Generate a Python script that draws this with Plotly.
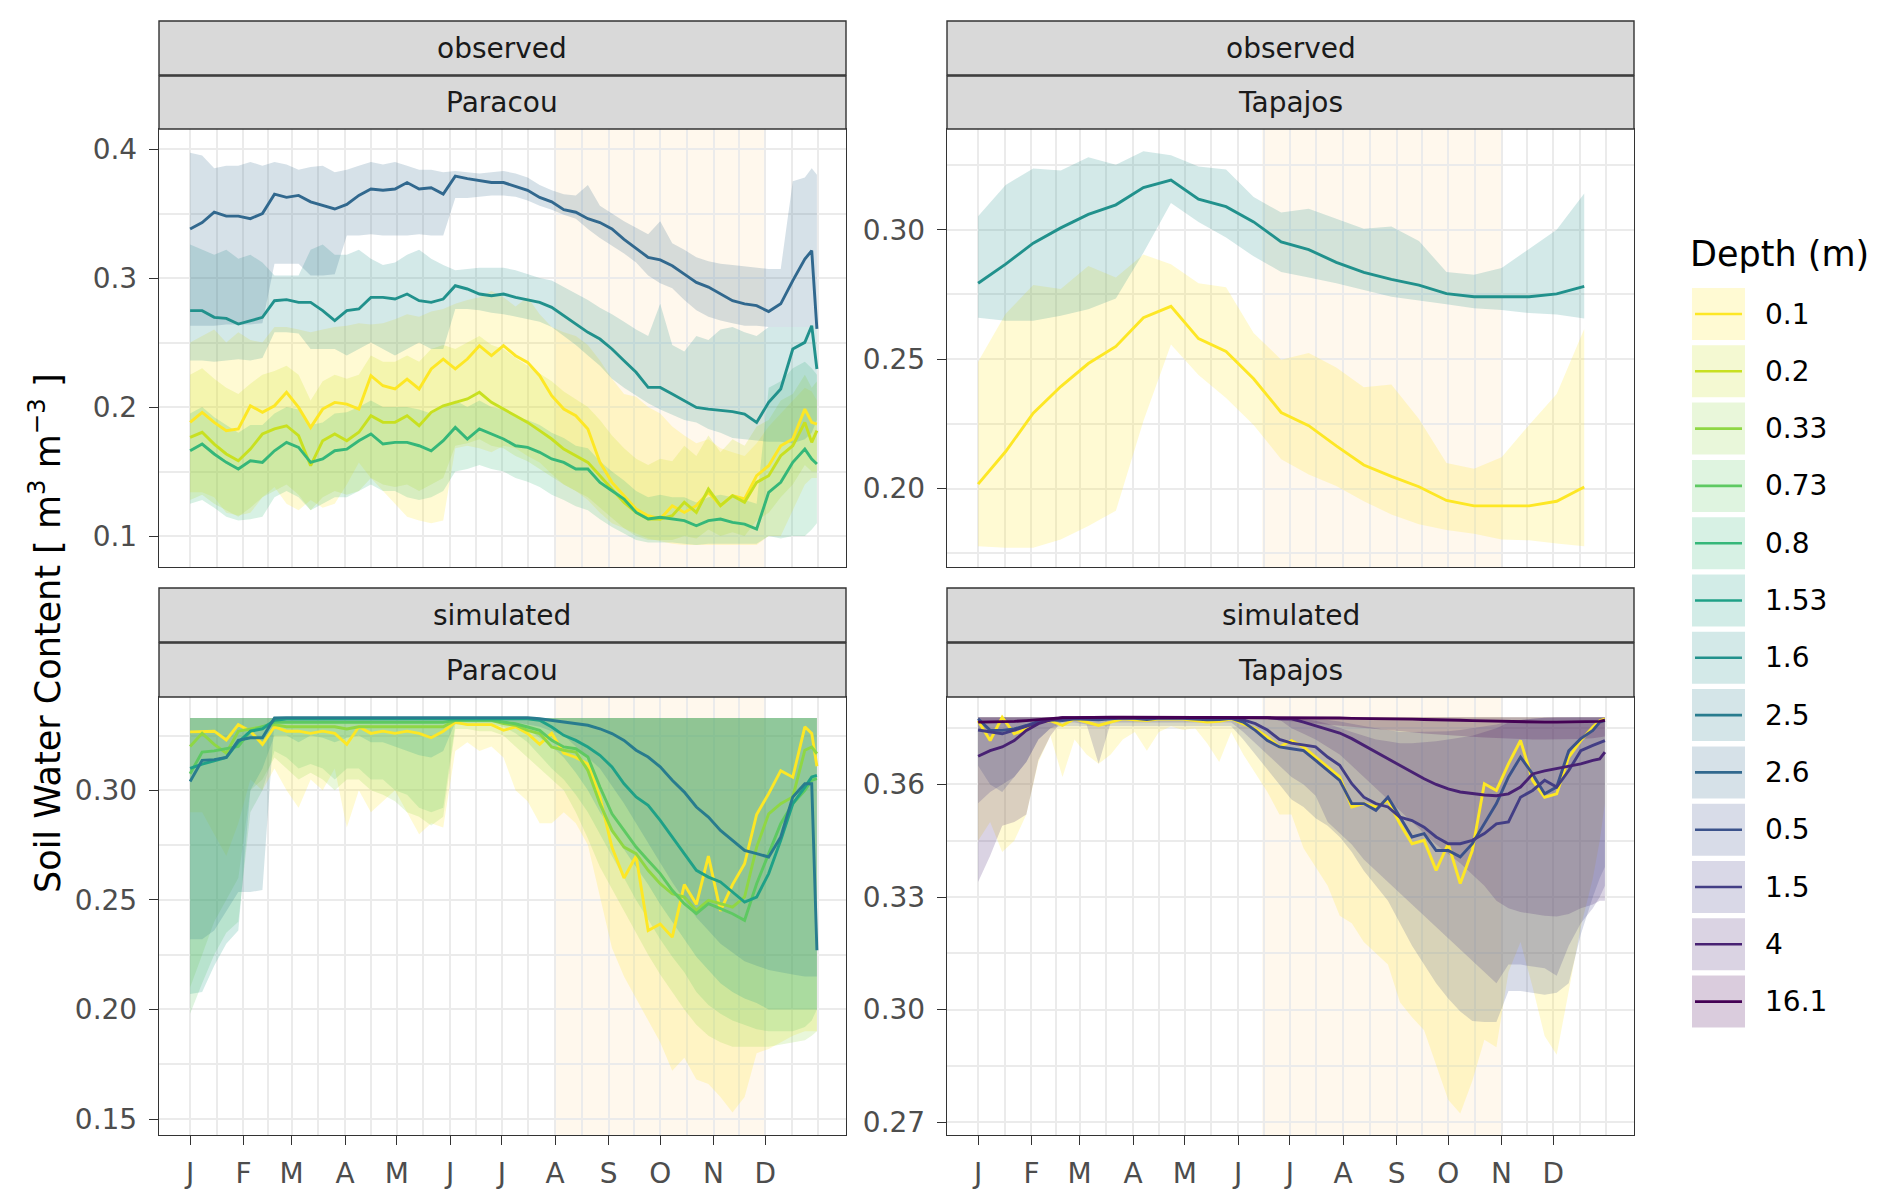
import plotly.graph_objects as go

# depth levels (legend order) and viridis colours, reversed
depth_labels = ["0.1", "0.2", "0.33", "0.73", "0.8", "1.53", "1.6", "2.5", "2.6", "0.5", "1.5", "4", "16.1"]
depth_colors = ["#FDE725", "#C8E020", "#8FD744", "#5EC962", "#35B779", "#1FA187", "#21918C",
                "#287C8E", "#31688E", "#3B528B", "#433E85", "#482173", "#440154"]
col = dict(zip(depth_labels, depth_colors))

month_labels = ["J", "F", "M", "A", "M", "J", "J", "A", "S", "O", "N", "D"]
month_start = [0, 31, 59, 90, 120, 151, 181, 212, 243, 273, 304, 334]
minor_x = [15.5, 45, 74.5, 105, 135.5, 166, 196.5, 227.5, 258, 288.5, 319, 349.5, 364.5]

# dry season (day of year)
dry_paracou = [212, 334]
dry_tapajos = [165, 304]

# sampling days
days = [0, 7, 14, 21, 28, 35, 42, 49, 56, 63, 70, 77, 84, 91, 98, 105, 112, 119, 126, 133,
        140, 147, 154, 161, 168, 175, 182, 189, 196, 203, 210, 217, 224, 231, 238, 245, 252,
        259, 266, 273, 280, 287, 294, 301, 308, 315, 322, 329, 336, 343, 350, 357, 361, 364]
days_tap_obs = [0, 16, 32, 48, 64, 80, 96, 112, 128, 144, 160, 176, 192, 208, 224, 240, 256,
                272, 288, 304, 320, 336, 352]

# ---------------- observed, Paracou ----------------
po_26 = [0.338, 0.343, 0.351, 0.348, 0.348, 0.346, 0.350, 0.365, 0.3625, 0.364,
         0.359, 0.356, 0.3535, 0.357, 0.364, 0.369, 0.368, 0.369, 0.374, 0.369,
         0.370, 0.365, 0.379, 0.377, 0.3755, 0.374, 0.374, 0.371, 0.368, 0.3625,
         0.359, 0.353, 0.351, 0.346, 0.343, 0.338, 0.330, 0.323, 0.316, 0.314,
         0.3095, 0.303, 0.2966, 0.293, 0.2876, 0.2824, 0.280, 0.2786, 0.274, 0.280,
         0.298, 0.3147, 0.3212, 0.2605]
po_26_hi = [0.397, 0.395, 0.385, 0.387, 0.387, 0.390, 0.387, 0.390, 0.388, 0.384,
            0.386, 0.387, 0.382, 0.384, 0.387, 0.390, 0.388, 0.390, 0.387, 0.384,
            0.384, 0.382, 0.383, 0.382, 0.381, 0.382, 0.383, 0.381, 0.378, 0.372,
            0.368, 0.365, 0.364, 0.372, 0.356, 0.350, 0.344, 0.339, 0.334, 0.344,
            0.327, 0.322, 0.316, 0.313, 0.311, 0.310, 0.309, 0.308, 0.307, 0.307,
            0.375, 0.378, 0.385, 0.380]
po_26_lo = [0.263, 0.263, 0.263, 0.264, 0.264, 0.264, 0.265, 0.311, 0.311, 0.311,
            0.302, 0.302, 0.303, 0.333, 0.333, 0.334, 0.333, 0.333, 0.333, 0.334,
            0.333, 0.333, 0.362, 0.362, 0.363, 0.364, 0.364, 0.363, 0.360, 0.356,
            0.353, 0.349, 0.346, 0.338, 0.331, 0.325, 0.319, 0.312, 0.302, 0.296,
            0.292, 0.283, 0.275, 0.270, 0.267, 0.265, 0.263, 0.263, 0.262, 0.262,
            0.262, 0.262, 0.262, 0.262]

po_16 = [0.2747, 0.2747, 0.2695, 0.2687, 0.2643, 0.267, 0.2695, 0.2824, 0.2832, 0.2811,
         0.2811, 0.2747, 0.267, 0.2747, 0.276, 0.285, 0.285, 0.2837, 0.2876, 0.2824,
         0.2811, 0.2837, 0.294, 0.2915, 0.2876, 0.2863, 0.2876, 0.285, 0.2832, 0.2811,
         0.2773, 0.2708, 0.2643, 0.2579, 0.2527, 0.245, 0.2359, 0.2269, 0.2152, 0.2152,
         0.2101, 0.2049, 0.1997, 0.1984, 0.1972, 0.1964, 0.1946, 0.188, 0.2036, 0.214,
         0.245, 0.2501, 0.263, 0.2295]
po_16_hi = [0.326, 0.322, 0.318, 0.322, 0.315, 0.318, 0.312, 0.302, 0.302, 0.302,
            0.322, 0.326, 0.318, 0.318, 0.322, 0.315, 0.310, 0.312, 0.318, 0.322,
            0.315, 0.310, 0.306, 0.307, 0.308, 0.308, 0.308, 0.306, 0.303, 0.300,
            0.298, 0.293, 0.288, 0.283, 0.277, 0.272, 0.266, 0.260, 0.255, 0.280,
            0.248, 0.243, 0.255, 0.252, 0.260, 0.262, 0.258, 0.255, 0.262, 0.262,
            0.262, 0.262, 0.262, 0.262]
po_16_lo = [0.236, 0.236, 0.235, 0.236, 0.237, 0.236, 0.238, 0.258, 0.258, 0.257,
            0.245, 0.245, 0.245, 0.240, 0.245, 0.250, 0.245, 0.240, 0.245, 0.250,
            0.245, 0.245, 0.276, 0.276, 0.275, 0.273, 0.272, 0.270, 0.268, 0.266,
            0.262, 0.255, 0.248, 0.240, 0.232, 0.222, 0.215, 0.209, 0.203, 0.198,
            0.194, 0.190, 0.188, 0.183, 0.180, 0.176, 0.175, 0.174, 0.173, 0.173,
            0.172, 0.175, 0.180, 0.190]

po_01 = [0.1881, 0.1959, 0.1881, 0.1817, 0.183, 0.201, 0.1959, 0.201, 0.2114, 0.1997,
         0.1842, 0.1984, 0.2036, 0.2023, 0.1984, 0.2243, 0.2165, 0.214, 0.2217, 0.214,
         0.2295, 0.2372, 0.2295, 0.2372, 0.2475, 0.2398, 0.2475, 0.2398, 0.2346, 0.2243,
         0.2088, 0.1984, 0.1933, 0.183, 0.1571, 0.1416, 0.1313, 0.1209, 0.1158, 0.1132,
         0.1235, 0.1183, 0.1235, 0.1339, 0.1235, 0.1313, 0.1287, 0.1468, 0.1545, 0.170,
         0.1752, 0.1984, 0.1881, 0.1868]
po_01_hi = [0.250, 0.255, 0.260, 0.250, 0.258, 0.252, 0.250, 0.262, 0.262, 0.260,
            0.258, 0.260, 0.262, 0.263, 0.265, 0.264, 0.265, 0.268, 0.272, 0.270,
            0.274, 0.276, 0.280, 0.283, 0.285, 0.290, 0.285, 0.278, 0.285, 0.272,
            0.262, 0.258, 0.255, 0.248, 0.236, 0.222, 0.210, 0.208, 0.200, 0.195,
            0.185, 0.178, 0.172, 0.175, 0.168, 0.165, 0.162, 0.172, 0.185, 0.195,
            0.205, 0.215, 0.212, 0.205]
po_01_lo = [0.134, 0.134, 0.130, 0.118, 0.116, 0.118, 0.130, 0.138, 0.125, 0.120,
            0.128, 0.122, 0.125, 0.140, 0.157, 0.145, 0.135, 0.125, 0.115, 0.112,
            0.110, 0.112, 0.168, 0.170, 0.168, 0.165, 0.170, 0.168, 0.162, 0.157,
            0.148, 0.140, 0.135, 0.128, 0.118, 0.110, 0.106, 0.102, 0.098, 0.096,
            0.094, 0.093, 0.093, 0.093, 0.093, 0.093, 0.093, 0.093, 0.100, 0.100,
            0.120, 0.140, 0.145, 0.145]

po_02 = [0.1765, 0.1804, 0.1713, 0.1636, 0.1584, 0.1674, 0.1791, 0.183, 0.1855, 0.1778,
         0.1545, 0.1739, 0.1791, 0.1739, 0.1804, 0.1933, 0.1881, 0.1881, 0.1933, 0.1855,
         0.1959, 0.201, 0.2036, 0.2062, 0.2114, 0.2036, 0.1984, 0.1933, 0.1881, 0.1817,
         0.1752, 0.1674, 0.1623, 0.1571, 0.1468, 0.1364, 0.1261, 0.1183, 0.1132, 0.1132,
         0.1158, 0.1261, 0.1183, 0.1364, 0.1235, 0.1313, 0.1261, 0.1416, 0.1468, 0.1623,
         0.170, 0.1881, 0.1726, 0.1817]
po_02_hi = [0.225, 0.230, 0.222, 0.215, 0.210, 0.218, 0.225, 0.228, 0.232, 0.225,
            0.205, 0.220, 0.225, 0.222, 0.225, 0.240, 0.235, 0.235, 0.240, 0.235,
            0.245, 0.248, 0.245, 0.250, 0.255, 0.248, 0.245, 0.238, 0.232, 0.226,
            0.220, 0.212, 0.206, 0.200, 0.190, 0.178, 0.168, 0.160, 0.155, 0.160,
            0.158, 0.170, 0.162, 0.178, 0.165, 0.175, 0.170, 0.185, 0.190, 0.205,
            0.210, 0.225, 0.215, 0.220]
po_02_lo = [0.128, 0.132, 0.125, 0.120, 0.115, 0.122, 0.130, 0.135, 0.140, 0.132,
            0.120, 0.130, 0.135, 0.132, 0.135, 0.145, 0.140, 0.138, 0.140, 0.135,
            0.140, 0.145, 0.170, 0.172, 0.175, 0.170, 0.168, 0.162, 0.158, 0.152,
            0.146, 0.140, 0.135, 0.130, 0.122, 0.114, 0.106, 0.100, 0.097, 0.097,
            0.097, 0.100, 0.098, 0.105, 0.100, 0.103, 0.100, 0.112, 0.118, 0.130,
            0.140, 0.155, 0.150, 0.150]

po_08 = [0.1661, 0.1713, 0.1636, 0.1571, 0.152, 0.1584, 0.1571, 0.1661, 0.1726, 0.1687,
         0.1571, 0.1597, 0.1661, 0.1674, 0.1739, 0.1791, 0.1713, 0.1726, 0.1726, 0.170,
         0.1661, 0.1739, 0.1842, 0.1752, 0.183, 0.1791, 0.1752, 0.170, 0.1687, 0.1649,
         0.1597, 0.1571, 0.152, 0.152, 0.1416, 0.1351, 0.1287, 0.1183, 0.1132, 0.1145,
         0.1132, 0.1119, 0.108, 0.1119, 0.1132, 0.1106, 0.1093, 0.1054, 0.1339, 0.1416,
         0.1571, 0.1674, 0.1597, 0.1558]
po_08_hi = [0.195, 0.200, 0.192, 0.186, 0.180, 0.186, 0.186, 0.195, 0.200, 0.198,
            0.186, 0.188, 0.195, 0.196, 0.200, 0.205, 0.200, 0.200, 0.200, 0.198,
            0.195, 0.200, 0.205, 0.200, 0.205, 0.200, 0.198, 0.192, 0.190, 0.186,
            0.180, 0.176, 0.170, 0.168, 0.158, 0.150, 0.143, 0.135, 0.130, 0.132,
            0.130, 0.130, 0.126, 0.130, 0.132, 0.130, 0.128, 0.125, 0.215, 0.220,
            0.230, 0.235, 0.230, 0.225]
po_08_lo = [0.125, 0.128, 0.122, 0.115, 0.112, 0.113, 0.115, 0.130, 0.135, 0.130,
            0.120, 0.125, 0.130, 0.130, 0.135, 0.140, 0.135, 0.135, 0.130, 0.128,
            0.130, 0.135, 0.150, 0.152, 0.155, 0.152, 0.150, 0.145, 0.142, 0.138,
            0.132, 0.128, 0.123, 0.120, 0.113, 0.107, 0.102, 0.097, 0.095, 0.095,
            0.095, 0.094, 0.093, 0.094, 0.094, 0.094, 0.094, 0.094, 0.100, 0.098,
            0.100, 0.100, 0.105, 0.110]

# ---------------- observed, Tapajos ----------------
to_16 = [0.2793, 0.2867, 0.2948, 0.3007, 0.3059, 0.3096, 0.3163, 0.3192, 0.3118, 0.3089,
         0.303, 0.2953, 0.2923, 0.2874, 0.2835, 0.2808, 0.2786, 0.2753, 0.2741, 0.2741,
         0.2741, 0.2752, 0.2781]
to_16_hi = [0.3052, 0.3173, 0.3236, 0.3229, 0.328, 0.3251, 0.3303, 0.3288, 0.3244, 0.3233,
            0.3126, 0.3066, 0.3081, 0.3044, 0.3004, 0.3012, 0.2956, 0.2837, 0.2826, 0.2852,
            0.2926, 0.300, 0.314]
to_16_lo = [0.266, 0.2648, 0.2648, 0.2668, 0.2693, 0.2734, 0.2911, 0.3103, 0.303, 0.297,
            0.2897, 0.2837, 0.2815, 0.2793, 0.2767, 0.2741, 0.2727, 0.2712, 0.2697, 0.269,
            0.2678, 0.2672, 0.2657]
to_01 = [0.2017, 0.2143, 0.2291, 0.2394, 0.2483, 0.2549, 0.266, 0.2704, 0.2579, 0.253,
         0.2424, 0.2294, 0.2243, 0.2165, 0.2091, 0.2047, 0.2007, 0.1954, 0.1933, 0.1933,
         0.1933, 0.1951, 0.2006]
to_01_hi = [0.249, 0.2675, 0.2786, 0.2771, 0.286, 0.2815, 0.2904, 0.2867, 0.2793, 0.2778,
            0.2601, 0.2498, 0.2524, 0.2468, 0.2391, 0.2402, 0.2269, 0.2099, 0.2077, 0.2121,
            0.2246, 0.2365, 0.2616]
to_01_lo = [0.1777, 0.1771, 0.1771, 0.1803, 0.1855, 0.1914, 0.2261, 0.2557, 0.2439, 0.235,
            0.2246, 0.2113, 0.2054, 0.201, 0.1951, 0.190, 0.1862, 0.184, 0.1825, 0.1803,
            0.180, 0.1788, 0.1777]

# ---------------- simulated, Paracou ----------------
ps_hi = [0.333, 0.333, 0.333, 0.333, 0.333, 0.333, 0.333, 0.3332, 0.3332, 0.3332,
         0.3332, 0.3332, 0.3332, 0.3332, 0.3332, 0.3332, 0.3332, 0.3332, 0.3332, 0.3332,
         0.3332, 0.3332, 0.3333, 0.3333, 0.3333, 0.3333, 0.3333, 0.3333, 0.3333, 0.333,
         0.333, 0.333, 0.333, 0.333, 0.333, 0.333, 0.333, 0.333, 0.333, 0.333,
         0.333, 0.333, 0.333, 0.333, 0.333, 0.333, 0.333, 0.333, 0.333, 0.333,
         0.333, 0.333, 0.333, 0.333]

ps_01 = [0.3267, 0.327, 0.327, 0.323, 0.330, 0.327, 0.321, 0.329, 0.327, 0.327,
         0.326, 0.327, 0.326, 0.321, 0.329, 0.326, 0.327, 0.326, 0.327, 0.326,
         0.324, 0.327, 0.331, 0.330, 0.330, 0.330, 0.3274, 0.329, 0.326, 0.321,
         0.326, 0.317, 0.315, 0.312, 0.297, 0.274, 0.260, 0.270, 0.236, 0.239,
         0.233, 0.257, 0.248, 0.270, 0.245, 0.257, 0.2665, 0.289, 0.2985, 0.309,
         0.306, 0.329, 0.326, 0.311]
ps_01_lo = [0.290, 0.290, 0.280, 0.270, 0.285, 0.305, 0.300, 0.310, 0.300, 0.292,
            0.305, 0.300, 0.310, 0.283, 0.300, 0.290, 0.295, 0.300, 0.290, 0.280,
            0.285, 0.283, 0.318, 0.322, 0.318, 0.320, 0.315, 0.300, 0.295, 0.285,
            0.285, 0.290, 0.285, 0.275, 0.251, 0.228, 0.215, 0.205, 0.195, 0.185,
            0.172, 0.178, 0.168, 0.166, 0.160, 0.153, 0.160, 0.180, 0.182, 0.185,
            0.188, 0.190, 0.190, 0.190]

ps_033 = [0.320, 0.326, 0.321, 0.317, 0.327, 0.328, 0.329, 0.330, 0.329, 0.329,
          0.329, 0.329, 0.329, 0.328, 0.329, 0.329, 0.329, 0.329, 0.329, 0.329,
          0.329, 0.329, 0.332, 0.332, 0.332, 0.332, 0.3305, 0.3297, 0.3274, 0.3259,
          0.3198, 0.3183, 0.3175, 0.3091, 0.2939, 0.2817, 0.2741, 0.2711, 0.2635, 0.2574,
          0.2528, 0.2513, 0.2452, 0.2498, 0.2483, 0.2467, 0.2513, 0.2741, 0.2893, 0.2939,
          0.297, 0.3183, 0.3198, 0.3167]
ps_033_lo = [0.210, 0.225, 0.240, 0.250, 0.260, 0.300, 0.305, 0.315, 0.310, 0.305,
             0.308, 0.305, 0.300, 0.305, 0.305, 0.300, 0.298, 0.295, 0.290, 0.288,
             0.284, 0.288, 0.328, 0.328, 0.327, 0.327, 0.325, 0.320, 0.315, 0.310,
             0.305, 0.300, 0.290, 0.278, 0.265, 0.255, 0.245, 0.235, 0.225, 0.216,
             0.208, 0.200, 0.193, 0.188, 0.185, 0.183, 0.183, 0.183, 0.183, 0.184,
             0.185, 0.186, 0.188, 0.190]

ps_073 = [0.3076, 0.3175, 0.318, 0.319, 0.320, 0.327, 0.329, 0.331, 0.331, 0.331,
          0.331, 0.331, 0.331, 0.331, 0.331, 0.331, 0.331, 0.331, 0.331, 0.331,
          0.331, 0.331, 0.332, 0.332, 0.332, 0.332, 0.3312, 0.3304, 0.3289, 0.3274,
          0.3228, 0.3198, 0.319, 0.3152, 0.3015, 0.2893, 0.2817, 0.2741, 0.268, 0.262,
          0.2544, 0.2483, 0.2437, 0.2483, 0.246, 0.2437, 0.2407, 0.2574, 0.2711, 0.2848,
          0.2939, 0.300, 0.3046, 0.3053]
ps_073_lo = [0.198, 0.212, 0.225, 0.235, 0.240, 0.290, 0.300, 0.318, 0.315, 0.310,
             0.312, 0.310, 0.305, 0.310, 0.310, 0.305, 0.305, 0.300, 0.298, 0.292,
             0.290, 0.292, 0.330, 0.330, 0.330, 0.330, 0.329, 0.326, 0.322, 0.316,
             0.310, 0.305, 0.298, 0.290, 0.280, 0.270, 0.260, 0.250, 0.241, 0.232,
             0.224, 0.217, 0.208, 0.202, 0.198, 0.195, 0.193, 0.191, 0.190, 0.190,
             0.190, 0.192, 0.195, 0.200]

ps_153 = [0.310, 0.312, 0.3135, 0.315, 0.322, 0.327, 0.328, 0.332, 0.3325, 0.3325,
          0.3325, 0.3325, 0.3325, 0.3325, 0.3325, 0.3325, 0.3325, 0.3325, 0.3325, 0.3325,
          0.3325, 0.3325, 0.3327, 0.3327, 0.3327, 0.3327, 0.3327, 0.3327, 0.3327, 0.332,
          0.3289, 0.3251, 0.3228, 0.3198, 0.316, 0.3107, 0.303, 0.297, 0.2932, 0.2863,
          0.2787, 0.2711, 0.2635, 0.2604, 0.2582, 0.2536, 0.249, 0.2513, 0.262, 0.2772,
          0.2939, 0.3015, 0.3061, 0.3068]
ps_153_lo = [0.207, 0.208, 0.220, 0.230, 0.236, 0.300, 0.310, 0.325, 0.325, 0.322,
             0.325, 0.324, 0.322, 0.324, 0.325, 0.322, 0.322, 0.320, 0.318, 0.316,
             0.315, 0.318, 0.331, 0.331, 0.331, 0.331, 0.331, 0.330, 0.328, 0.324,
             0.320, 0.315, 0.308, 0.300, 0.290, 0.282, 0.273, 0.265, 0.257, 0.248,
             0.240, 0.232, 0.224, 0.218, 0.212, 0.208, 0.205, 0.203, 0.200, 0.200,
             0.200, 0.200, 0.200, 0.200]

ps_25 = [0.304, 0.3137, 0.314, 0.315, 0.3228, 0.324, 0.324, 0.333, 0.3332, 0.3332,
         0.3332, 0.3332, 0.3332, 0.3332, 0.3332, 0.3332, 0.3332, 0.3332, 0.3332, 0.3332,
         0.3332, 0.3332, 0.3333, 0.3333, 0.3333, 0.3333, 0.3332, 0.3332, 0.3332, 0.3327,
         0.332, 0.3312, 0.3304, 0.3297, 0.3281, 0.3259, 0.3228, 0.3183, 0.3152, 0.3107,
         0.3046, 0.2992, 0.2924, 0.2878, 0.2817, 0.2772, 0.2726, 0.2711, 0.2696, 0.2787,
         0.297, 0.303, 0.303, 0.227]
ps_25_lo = [0.232, 0.232, 0.236, 0.245, 0.2536, 0.2536, 0.2545, 0.332, 0.332, 0.332,
            0.332, 0.332, 0.332, 0.332, 0.332, 0.332, 0.332, 0.332, 0.332, 0.332,
            0.332, 0.332, 0.332, 0.332, 0.332, 0.332, 0.332, 0.331, 0.330, 0.329,
            0.327, 0.325, 0.320, 0.315, 0.310, 0.302, 0.294, 0.285, 0.276, 0.267,
            0.258, 0.250, 0.242, 0.236, 0.230, 0.226, 0.222, 0.220, 0.218, 0.217,
            0.216, 0.215, 0.215, 0.215]

# ---------------- simulated, Tapajos ----------------
ts_hi = [0.3779, 0.3779, 0.3779, 0.3779, 0.3779, 0.3779, 0.3779, 0.3779, 0.3779, 0.3779,
         0.3779, 0.3779, 0.3779, 0.3779, 0.3779, 0.3779, 0.3779, 0.3779, 0.3779, 0.3779,
         0.3779, 0.3779, 0.3779, 0.3779, 0.3779, 0.3779, 0.3779, 0.3779, 0.3779, 0.3779,
         0.3779, 0.3779, 0.3779, 0.3779, 0.3779, 0.3779, 0.3779, 0.3779, 0.3779, 0.3779,
         0.3779, 0.3779, 0.3779, 0.3779, 0.3779, 0.3779, 0.3779, 0.3779, 0.3779, 0.3779,
         0.3779, 0.3779, 0.3779, 0.3779]

ts_01 = [0.377, 0.3717, 0.3779, 0.3735, 0.3748, 0.3766, 0.377, 0.3757, 0.3775, 0.3766,
         0.3757, 0.3766, 0.3775, 0.3772, 0.377, 0.3775, 0.3774, 0.3774, 0.377, 0.3766,
         0.3768, 0.3775, 0.3761, 0.3748, 0.3726, 0.370, 0.3717, 0.370, 0.3673, 0.3646,
         0.362, 0.354, 0.3549, 0.354, 0.3557, 0.3495, 0.3442, 0.3451, 0.3371, 0.3442,
         0.3336, 0.3424, 0.3602, 0.3584, 0.3655, 0.3717, 0.3611, 0.3566, 0.3575, 0.3673,
         0.3717, 0.3753, 0.377, 0.3775]
ts_01_lo = [0.345, 0.350, 0.342, 0.345, 0.352, 0.366, 0.373, 0.362, 0.372, 0.368,
            0.3655, 0.368, 0.372, 0.374, 0.369, 0.374, 0.3755, 0.3745, 0.375, 0.371,
            0.366, 0.374, 0.368, 0.363, 0.358, 0.352, 0.352, 0.343, 0.338, 0.333,
            0.325, 0.323, 0.318, 0.315, 0.312, 0.302, 0.298, 0.2945, 0.285, 0.276,
            0.2723, 0.281, 0.292, 0.290, 0.310, 0.318, 0.306, 0.293, 0.288, 0.305,
            0.322, 0.335, 0.345, 0.355]

ts_05 = [0.3775, 0.3744, 0.3744, 0.3748, 0.3757, 0.3768, 0.3772, 0.377, 0.3775, 0.3773,
         0.3772, 0.3775, 0.3777, 0.3776, 0.3773, 0.3777, 0.3777, 0.3776, 0.3774, 0.3772,
         0.3773, 0.3776, 0.3766, 0.3744, 0.3717, 0.370, 0.3695, 0.369, 0.3664, 0.3637,
         0.3611, 0.3549, 0.3549, 0.3531, 0.3566, 0.3513, 0.346, 0.3469, 0.3424, 0.3424,
         0.3407, 0.3442, 0.3495, 0.3549, 0.362, 0.3673, 0.3628, 0.3575, 0.3593, 0.369,
         0.3722, 0.3744, 0.3766, 0.377]
ts_05_lo = [0.365, 0.360, 0.358, 0.362, 0.366, 0.372, 0.375, 0.3755, 0.3755, 0.3755,
            0.3755, 0.3755, 0.3755, 0.3755, 0.3755, 0.3755, 0.3755, 0.3755, 0.3755, 0.3755,
            0.3755, 0.3755, 0.372, 0.368, 0.364, 0.360, 0.356, 0.354, 0.351, 0.349,
            0.346, 0.342, 0.337, 0.333, 0.329, 0.323, 0.317, 0.312, 0.307, 0.303,
            0.2995, 0.297, 0.2967, 0.2967, 0.305, 0.305, 0.3045, 0.304, 0.3045, 0.307,
            0.320, 0.330, 0.335, 0.338]

ts_15 = [0.3745, 0.374, 0.3735, 0.3745, 0.3755, 0.3765, 0.3772, 0.3775, 0.3776, 0.3777,
         0.3777, 0.3776, 0.3777, 0.3777, 0.3777, 0.3777, 0.3777, 0.3777, 0.3776, 0.3776,
         0.3776, 0.3777, 0.3772, 0.3762, 0.3745, 0.372, 0.371, 0.3705, 0.370, 0.3673,
         0.3651, 0.3602, 0.3566, 0.3549, 0.354, 0.3513, 0.3504, 0.3486, 0.346, 0.3442,
         0.3442, 0.3451, 0.3469, 0.3495, 0.350, 0.3566, 0.3584, 0.3611, 0.3593, 0.3637,
         0.369, 0.3704, 0.3711, 0.3717]
ts_15_hi = [0.3779, 0.3779, 0.3779, 0.3779, 0.3779, 0.3779, 0.3779, 0.3779, 0.3779, 0.3779,
            0.3779, 0.3779, 0.3779, 0.3779, 0.3779, 0.3779, 0.3779, 0.3779, 0.3779, 0.3779,
            0.3779, 0.3779, 0.3779, 0.3779, 0.3779, 0.3779, 0.3779, 0.3778, 0.3776, 0.3772,
            0.3768, 0.3762, 0.3755, 0.375, 0.3745, 0.374, 0.374, 0.374, 0.374, 0.3742,
            0.3745, 0.375, 0.3755, 0.376, 0.3768, 0.3772, 0.3775, 0.3778, 0.3779, 0.3779,
            0.3779, 0.3779, 0.3779, 0.3779]
ts_15_lo = [0.355, 0.358, 0.360, 0.362, 0.366, 0.372, 0.375, 0.3765, 0.3765, 0.376,
            0.3655, 0.3765, 0.3765, 0.3765, 0.3765, 0.3765, 0.3765, 0.3765, 0.3765, 0.3765,
            0.3765, 0.3765, 0.374, 0.371, 0.368, 0.365, 0.362, 0.360, 0.357, 0.350,
            0.347, 0.344, 0.340, 0.337, 0.334, 0.331, 0.328, 0.325, 0.322, 0.319,
            0.316, 0.313, 0.310, 0.307, 0.312, 0.312, 0.3115, 0.311, 0.309, 0.317,
            0.323, 0.327, 0.330, 0.333]

ts_4 = [0.3675, 0.369, 0.370, 0.3717, 0.3744, 0.3762, 0.3772, 0.3778, 0.3778, 0.3778,
        0.3778, 0.3778, 0.3778, 0.3778, 0.3778, 0.3778, 0.3778, 0.3778, 0.3778, 0.3778,
        0.3778, 0.3778, 0.3778, 0.3778, 0.3778, 0.3775, 0.3775, 0.3766, 0.3757, 0.3748,
        0.3737, 0.3722, 0.3704, 0.3686, 0.3668, 0.3651, 0.3633, 0.3615, 0.360, 0.3588,
        0.358, 0.3575, 0.3572, 0.357, 0.3575, 0.3593, 0.3628, 0.3636, 0.3642, 0.3648,
        0.3655, 0.3664, 0.3668, 0.3686]
ts_4_hi = [0.3779, 0.3779, 0.3779, 0.3779, 0.3779, 0.3779, 0.3779, 0.3779, 0.3779, 0.3779,
           0.3779, 0.3779, 0.3779, 0.3779, 0.3779, 0.3779, 0.3779, 0.3779, 0.3779, 0.3779,
           0.3779, 0.3779, 0.3779, 0.3779, 0.3779, 0.3779, 0.3778, 0.3775, 0.377, 0.3762,
           0.375, 0.374, 0.373, 0.372, 0.3715, 0.371, 0.371, 0.3712, 0.3715, 0.372,
           0.3725, 0.373, 0.374, 0.375, 0.3765, 0.3772, 0.3775, 0.3778, 0.3779, 0.3779,
           0.3779, 0.3779, 0.3779, 0.3779]
ts_4_lo = [0.334, 0.341, 0.349, 0.350, 0.352, 0.3665, 0.373, 0.3772, 0.3775, 0.3776,
           0.3776, 0.3776, 0.3776, 0.3776, 0.3776, 0.3776, 0.3776, 0.3776, 0.3776, 0.3776,
           0.3776, 0.3776, 0.3776, 0.3775, 0.3774, 0.3773, 0.375, 0.3735, 0.372, 0.370,
           0.368, 0.365, 0.362, 0.359, 0.356, 0.353, 0.350, 0.347, 0.344, 0.3415,
           0.339, 0.336, 0.333, 0.329, 0.327, 0.326, 0.3255, 0.325, 0.3248, 0.3255,
           0.327, 0.328, 0.329, 0.329]

ts_161 = [0.3766, 0.3766, 0.3767, 0.3768, 0.377, 0.3773, 0.3776, 0.3778, 0.3778, 0.3779,
          0.3779, 0.3779, 0.3779, 0.3779, 0.3779, 0.3779, 0.3779, 0.3779, 0.3779, 0.3779,
          0.3779, 0.3779, 0.3779, 0.3779, 0.3779, 0.3779, 0.3778, 0.3778, 0.3778, 0.3777,
          0.3777, 0.3776, 0.3776, 0.3775, 0.3775, 0.3774, 0.3774, 0.3773, 0.3773, 0.3772,
          0.3771, 0.377, 0.3769, 0.3768, 0.3767, 0.3767, 0.3766, 0.3766, 0.3766, 0.3766,
          0.3766, 0.3767, 0.3768, 0.3771]
ts_161_lo = [0.3762, 0.3762, 0.3763, 0.3764, 0.3766, 0.3769, 0.3772, 0.3775, 0.3776, 0.3776,
             0.3776, 0.3776, 0.3776, 0.3776, 0.3776, 0.3776, 0.3776, 0.3776, 0.3776, 0.3776,
             0.3776, 0.3776, 0.3775, 0.3774, 0.3773, 0.3771, 0.3769, 0.3766, 0.3763, 0.376,
             0.3757, 0.3754, 0.3751, 0.3748, 0.3745, 0.3742, 0.3739, 0.3736, 0.3733, 0.3731,
             0.3729, 0.3727, 0.3725, 0.3723, 0.3722, 0.3721, 0.372, 0.372, 0.372, 0.372,
             0.3721, 0.3723, 0.3725, 0.3728]

# ---------------- figure ----------------
W, H = 1892, 1197
FONT = "DejaVu Sans"
GRID = "#EBEBEB"
BORDER = "#333333"


def px(x):
    return x / W


def py(y):
    return 1 - y / H


def rgba(hex_color, a):
    h = hex_color.lstrip("#")
    return "rgba(%d,%d,%d,%.2f)" % (int(h[0:2], 16), int(h[2:4], 16), int(h[4:6], 16), a)


panels = [
    dict(xa="x", ya="y", strip=("observed", "Paracou"), dry=dry_paracou, x=days,
         series=[("0.1", po_01, po_01_lo, po_01_hi), ("0.2", po_02, po_02_lo, po_02_hi),
                 ("0.8", po_08, po_08_lo, po_08_hi), ("1.6", po_16, po_16_lo, po_16_hi),
                 ("2.6", po_26, po_26_lo, po_26_hi)]),
    dict(xa="x2", ya="y2", strip=("observed", "Tapajos"), dry=dry_tapajos, x=days_tap_obs,
         series=[("0.1", to_01, to_01_lo, to_01_hi), ("1.6", to_16, to_16_lo, to_16_hi)]),
    dict(xa="x3", ya="y3", strip=("simulated", "Paracou"), dry=dry_paracou, x=days,
         series=[("0.1", ps_01, ps_01_lo, ps_hi), ("0.33", ps_033, ps_033_lo, ps_hi),
                 ("0.73", ps_073, ps_073_lo, ps_hi), ("1.53", ps_153, ps_153_lo, ps_hi),
                 ("2.5", ps_25, ps_25_lo, ps_hi)]),
    dict(xa="x4", ya="y4", strip=("simulated", "Tapajos"), dry=dry_tapajos, x=days,
         series=[("0.1", ts_01, ts_01_lo, ts_hi), ("0.5", ts_05, ts_05_lo, ts_hi),
                 ("1.5", ts_15, ts_15_lo, ts_15_hi), ("4", ts_4, ts_4_lo, ts_4_hi),
                 ("16.1", ts_161, ts_161_lo, ts_hi)]),
]

fig = go.Figure()
for p in panels:
    xs = p["x"]
    for name, mean, lo, hi in p["series"]:
        assert len(mean) == len(xs) and len(lo) == len(xs) and len(hi) == len(xs), name
        fig.add_trace(go.Scatter(
            x=list(xs) + list(xs)[::-1], y=list(hi) + list(lo)[::-1],
            fill="toself", fillcolor=rgba(col[name], 0.2), line=dict(width=0),
            mode="lines", hoverinfo="skip", showlegend=False,
            xaxis=p["xa"], yaxis=p["ya"]))
    for name, mean, lo, hi in p["series"]:
        fig.add_trace(go.Scatter(
            x=xs, y=mean, mode="lines", line=dict(color=col[name], width=2.9),
            hoverinfo="skip", showlegend=False, xaxis=p["xa"], yaxis=p["ya"]))

# panel geometry in pixels
col_x = [(159, 846), (947, 1634)]
row_y = [(129, 567), (697, 1135)]
strip_y = [((21, 75), (76, 129)), ((588, 642), (643, 697))]

xaxis_base = dict(range=[-18.06, 380.9], tickmode="array", tickvals=month_start,
                  ticktext=month_labels, showgrid=True, gridcolor=GRID, gridwidth=2.4,
                  zeroline=False, showline=True, mirror=True, linecolor=BORDER, linewidth=1.4,
                  minor=dict(tickmode="array", tickvals=minor_x, showgrid=True,
                             gridcolor=GRID, gridwidth=1.5, ticks=""),
                  tickfont=dict(family=FONT, size=28, color="#4D4D4D"),
                  ticks="outside", ticklen=9, tickwidth=1.4, tickcolor=BORDER,
                  ticklabelstandoff=4, automargin=False)

y_specs = [
    dict(range=[0.076, 0.4155], tickvals=[0.1, 0.2, 0.3, 0.4], ticktext=["0.1", "0.2", "0.3", "0.4"],
         minor=[0.15, 0.25, 0.35]),
    dict(range=[0.1697, 0.3389], tickvals=[0.20, 0.25, 0.30], ticktext=["0.20", "0.25", "0.30"],
         minor=[0.175, 0.225, 0.275, 0.325]),
    dict(range=[0.1427, 0.3426], tickvals=[0.15, 0.20, 0.25, 0.30],
         ticktext=["0.15", "0.20", "0.25", "0.30"], minor=[0.175, 0.225, 0.275, 0.325]),
    dict(range=[0.2666, 0.3833], tickvals=[0.27, 0.30, 0.33, 0.36],
         ticktext=["0.27", "0.30", "0.33", "0.36"], minor=[0.285, 0.315, 0.345, 0.375]),
]

layout = dict(width=W, height=H, margin=dict(l=0, r=0, t=0, b=0),
              paper_bgcolor="white", plot_bgcolor="white",
              font=dict(family=FONT), showlegend=False)
shapes = []
annotations = []

for i, p in enumerate(panels):
    r, c = divmod(i, 2)
    x0, x1 = col_x[c]
    y0, y1 = row_y[r]
    suffix = "" if i == 0 else str(i + 1)
    xa = dict(xaxis_base, domain=[px(x0), px(x1)], anchor="y" + suffix)
    if r == 0:
        xa.update(showticklabels=False, ticks="")
    ys = y_specs[i]
    ya = dict(range=ys["range"], tickmode="array", tickvals=ys["tickvals"], ticktext=ys["ticktext"],
              domain=[py(y1), py(y0)], anchor="x" + suffix,
              showgrid=True, gridcolor=GRID, gridwidth=2.4, zeroline=False,
              showline=True, mirror=True, linecolor=BORDER, linewidth=1.4,
              minor=dict(tickmode="array", tickvals=ys["minor"], showgrid=True,
                         gridcolor=GRID, gridwidth=1.5, ticks=""),
              tickfont=dict(family=FONT, size=28, color="#4D4D4D"),
              ticks="outside", ticklen=9, tickwidth=1.4, tickcolor=BORDER,
              ticklabelstandoff=6, automargin=False)
    layout["xaxis" + suffix] = xa
    layout["yaxis" + suffix] = ya

    # dry season shading
    shapes.append(dict(type="rect", xref=p["xa"], yref="paper",
                       x0=p["dry"][0], x1=p["dry"][1], y0=py(y1), y1=py(y0),
                       fillcolor="rgba(255,170,20,0.08)", line=dict(width=0), layer="below"))

    # facet strips
    for (sy0, sy1), label in zip(strip_y[r], p["strip"]):
        shapes.append(dict(type="rect", xref="paper", yref="paper",
                           x0=px(x0), x1=px(x1), y0=py(sy1), y1=py(sy0),
                           fillcolor="#D9D9D9", line=dict(color=BORDER, width=1.4)))
        annotations.append(dict(text=label, xref="paper", yref="paper",
                                x=px((x0 + x1) / 2), y=py((sy0 + sy1) / 2),
                                showarrow=False, xanchor="center", yanchor="middle",
                                font=dict(family=FONT, size=28, color="#1A1A1A")))

# y-axis title
annotations.append(dict(text="Soil Water Content [ m<sup>3</sup> m<sup>\u22123</sup> ]",
                        xref="paper", yref="paper", x=px(45), y=py(633), textangle=-90,
                        showarrow=False, xanchor="center", yanchor="middle",
                        font=dict(family=FONT, size=35, color="black")))

# legend (drawn by hand to mimic ribbon + line keys)
annotations.append(dict(text="Depth (m)", xref="paper", yref="paper", x=px(1688), y=py(254),
                        showarrow=False, xanchor="left", yanchor="middle",
                        font=dict(family=FONT, size=35, color="black")))
for i, (lab, c) in enumerate(zip(depth_labels, depth_colors)):
    top = 288 + 57.3 * i
    shapes.append(dict(type="rect", xref="paper", yref="paper", x0=px(1692), x1=px(1745),
                       y0=py(top + 52), y1=py(top), fillcolor=rgba(c, 0.2), line=dict(width=0)))
    shapes.append(dict(type="line", xref="paper", yref="paper", x0=px(1695), x1=px(1742),
                       y0=py(top + 26), y1=py(top + 26), line=dict(color=c, width=2.6)))
    annotations.append(dict(text=lab, xref="paper", yref="paper", x=px(1763), y=py(top + 26),
                            showarrow=False, xanchor="left", yanchor="middle",
                            font=dict(family=FONT, size=28, color="black")))

layout["shapes"] = shapes
layout["annotations"] = annotations
fig.update_layout(**layout)

fig.write_html("out.html", config={"displayModeBar": False},
               post_script="document.body.style.margin='0px';")
